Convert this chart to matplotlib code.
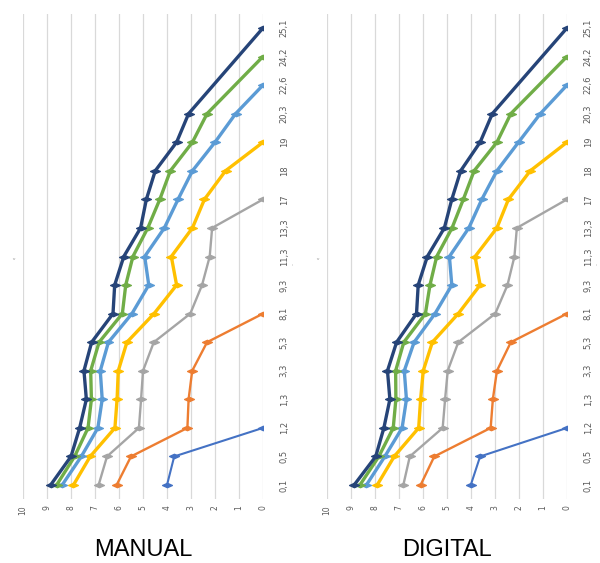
import matplotlib.pyplot as plt
from matplotlib.path import Path

categories = ["0,1", "0,5", "1,2", "1,3", "3,3", "5,3", "8,1", "9,3", "11,3",
              "13,3", "17", "18", "19", "20,3", "22,6", "24,2", "25,1"]
value_ticks = list(range(0, 11))

# MANUAL panel, one list per series (None = no point)
manual_s1 = [4.0, 3.7, 0]
manual_s2 = [6.1, 5.5, 3.15, 3.1, 2.95, 2.33, 0]
manual_s3 = [6.85, 6.5, 5.17, 5.08, 5.0, 4.55, 3.03, 2.54, 2.22, 2.12, 0]
manual_s4 = [7.9, 7.2, 6.17, 6.08, 6.03, 5.67, 4.54, 3.6, 3.82, 2.94, 2.44, 1.56, 0]
manual_s5 = [8.37, 7.57, 6.88, 6.7, 6.78, 6.44, 5.46, 4.76, 4.93, 4.11, 3.54, 2.94, 2.0,
             1.14, 0]
manual_s6 = [8.6, 7.85, 7.29, 7.15, 7.18, 6.83, 5.86, 5.72, 5.42, 4.8, 4.3, 3.86, 2.94,
             2.33, None, 0]
manual_s7 = [8.85, 8.0, 7.64, 7.36, 7.46, 7.14, 6.25, 6.18, 5.8, 5.1, 4.86, 4.49, 3.6,
             3.1, None, None, 0]

# DIGITAL panel
digital_s1 = [4.01, 3.62, 0]
digital_s2 = [6.1, 5.53, 3.18, 3.09, 2.92, 2.34, 0]
digital_s3 = [6.82, 6.55, 5.18, 5.08, 4.97, 4.53, 2.99, 2.48, 2.19, 2.09, 0]
digital_s4 = [7.91, 7.2, 6.18, 6.1, 5.99, 5.61, 4.53, 3.62, 3.83, 2.92, 2.44, 1.53, 0]
digital_s5 = [8.36, 7.59, 6.87, 6.69, 6.78, 6.37, 5.5, 4.8, 4.9, 4.09, 3.55, 2.92, 2.02,
              1.11, 0]
digital_s6 = [8.63, 7.84, 7.24, 7.13, 7.14, 6.8, 5.9, 5.71, 5.43, 4.79, 4.32, 3.87, 2.92,
              2.34, None, 0]
digital_s7 = [8.87, 7.97, 7.63, 7.38, 7.48, 7.1, 6.27, 6.2, 5.82, 5.11, 4.8, 4.43, 3.62,
              3.11, None, None, 0]

colors = ['#4472C4', '#ED7D31', '#A5A5A5', '#FFC000', '#5B9BD5', '#70AD47', '#264478']
widths = [1.5, 1.7, 1.7, 2.4, 2.4, 2.4, 2.4]

panels = [
    ("MANUAL", [manual_s1, manual_s2, manual_s3, manual_s4, manual_s5, manual_s6, manual_s7]),
    ("DIGITAL", [digital_s1, digital_s2, digital_s3, digital_s4, digital_s5, digital_s6, digital_s7]),
]

# flat diamond marker, like the rotated excel markers
flat_diamond = Path([(-1, 0), (0, 0.45), (1, 0), (0, -0.45), (-1, 0)],
                    [Path.MOVETO, Path.LINETO, Path.LINETO, Path.LINETO, Path.CLOSEPOLY])

fig = plt.figure(figsize=(6.0, 5.63), dpi=100)
lefts = [23 / 600, 327 / 600]
label_font = ['Liberation Sans Narrow', 'DejaVu Sans']

for (title, series), left in zip(panels, lefts):
    ax = fig.add_axes([left, 0.1131, 240 / 600, 0.8626])
    for k, vals in enumerate(series):
        pts = [(v, i) for i, v in enumerate(vals) if v is not None]
        xs = [p[0] for p in pts]
        ys = [p[1] for p in pts]
        ax.plot(xs, ys, color=colors[k], lw=widths[k], marker=flat_diamond, ms=7,
                mec=colors[k], solid_joinstyle='round', solid_capstyle='round',
                zorder=3 + k * 0.1)

    ax.set_xlim(10, 0)
    ax.set_ylim(-0.5, len(categories) - 0.5)
    ax.set_xticks(value_ticks)
    ax.set_xticklabels([str(v) for v in value_ticks], rotation=90,
                       fontsize=5.5, color='#595959', family=label_font)
    ax.set_yticks(range(len(categories)))
    ax.set_yticklabels(categories, rotation=90, va='center',
                       fontsize=6, color='#595959', family=label_font)
    ax.yaxis.tick_right()
    ax.tick_params(axis='x', length=0, pad=4)
    ax.tick_params(axis='y', length=0, pad=12)
    ax.grid(True, axis='x', color='#d9d9d9', lw=0.9)
    ax.set_axisbelow(True)
    for s in ax.spines.values():
        s.set_visible(False)

    cx = left + 120 / 600
    fig.text(cx, 0.023, title, ha='center', va='center', fontsize=17,
             family=['Liberation Sans', 'DejaVu Sans'], color='black')
    # remnants of rotated axis titles
    fig.text(left - 10 / 600, 1 - 262 / 563, "˅", ha='center', va='center',
             fontsize=6, color='#a6a6a6')
    fig.text(left + 271 / 600, 1 - 264 / 563, "-", ha='center', va='center',
             fontsize=4, color='#a6a6a6', rotation=90)

fig.savefig("out.png", dpi=100)
